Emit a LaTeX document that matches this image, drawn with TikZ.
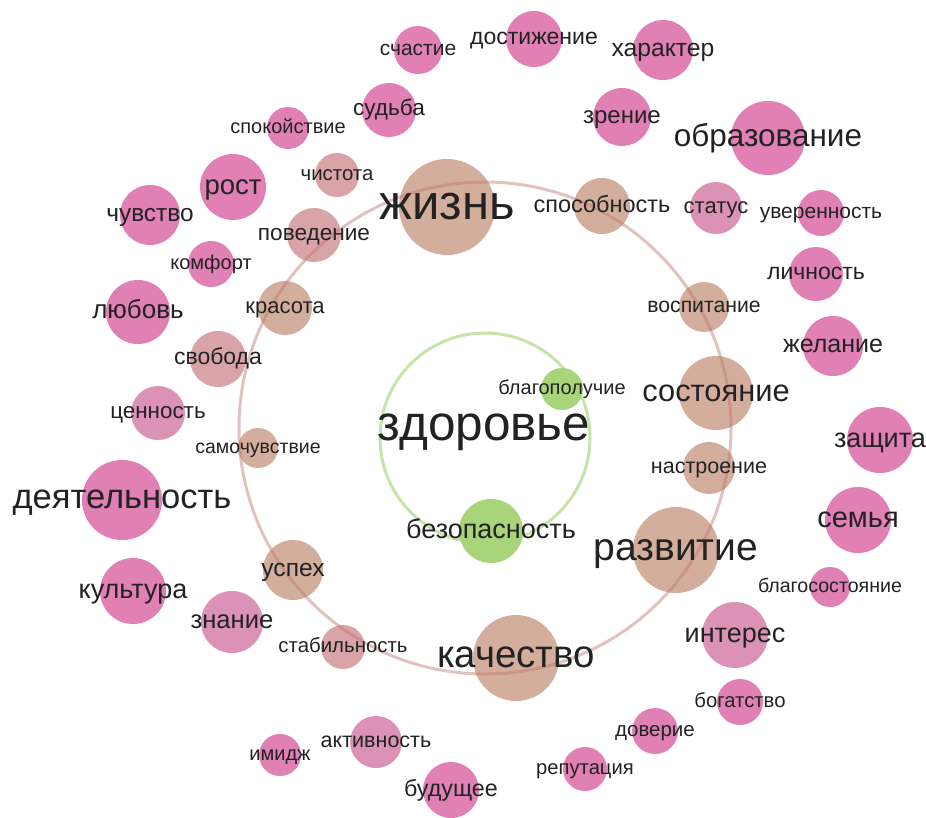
\documentclass[tikz,border=0pt]{standalone}
\usepackage{fontspec}
\setmainfont{Liberation Sans}
\usepackage{xcolor}
\usetikzlibrary{scopes}

\definecolor{pinkb}{RGB}{224,128,180}
\definecolor{pinkl}{RGB}{220,146,182}
\definecolor{mauveb}{RGB}{216,164,168}
\definecolor{brownb}{RGB}{212,174,156}
\definecolor{greenb}{RGB}{168,212,122}
\definecolor{ringc}{RGB}{190,120,115}
\definecolor{ringg}{RGB}{200,227,170}
\definecolor{txt}{RGB}{34,34,34}

\tikzset{
  lbl/.style={text=txt, inner sep=0pt, text height=0.52*#1pt, text depth=0pt,
    font=\fontsize{#1}{#1}\selectfont},
}

\begin{document}
\begin{tikzpicture}[x=1pt,y=-1pt]
	\useasboundingbox (0,0) rectangle (926,817);

	% inner ring
	\draw[ringg, line width=3pt] (485,438) circle [radius=105];

	% bubbles
	\fill[pinkb] (418,50) circle [radius=24];
	\fill[pinkb] (534,39) circle [radius=28];
	\fill[pinkb] (663,50) circle [radius=30];
	\fill[pinkb] (389,110) circle [radius=27];
	\fill[pinkb] (622,117) circle [radius=29];
	\fill[pinkb] (768,138) circle [radius=37];
	\fill[pinkb] (288,128) circle [radius=21];
	\fill[mauveb] (337,175) circle [radius=22];
	\fill[pinkb] (233,187) circle [radius=33];
	\fill[pinkb] (150,215) circle [radius=30];
	\fill[brownb] (447,207) circle [radius=48];
	\fill[mauveb] (314,235) circle [radius=27];
	\fill[brownb] (602,206) circle [radius=28];
	\fill[pinkl] (716,208) circle [radius=26];
	\fill[pinkb] (821,213) circle [radius=23];
	\fill[pinkb] (211,264) circle [radius=23];
	\fill[pinkb] (816,274) circle [radius=27];
	\fill[brownb] (704,307) circle [radius=25];
	\fill[pinkb] (138,312) circle [radius=32];
	\fill[brownb] (285,308) circle [radius=27];
	\fill[pinkb] (833,346) circle [radius=30];
	\fill[mauveb] (218,359) circle [radius=28];
	\fill[greenb] (562,389) circle [radius=21];
	\fill[brownb] (716,393) circle [radius=37];
	\fill[pinkl] (158,413) circle [radius=27];
	\fill[brownb] (258,448) circle [radius=20];
	\fill[pinkb] (880,440) circle [radius=33];
	\fill[brownb] (709,468) circle [radius=26];
	\fill[pinkb] (122,500) circle [radius=40];
	\fill[pinkb] (858,520) circle [radius=33];
	\fill[greenb] (491,531) circle [radius=32];
	\fill[brownb] (676,550) circle [radius=43];
	\fill[brownb] (293,570) circle [radius=30];
	\fill[pinkb] (133,591) circle [radius=33];
	\fill[pinkb] (830,587) circle [radius=20];
	\fill[pinkl] (232,622) circle [radius=31];
	\fill[pinkl] (735,635) circle [radius=33];
	\fill[mauveb] (343,647) circle [radius=22];
	\fill[brownb] (516,658) circle [radius=43];
	\fill[pinkb] (740,702) circle [radius=23];
	\fill[pinkb] (655,731) circle [radius=23];
	\fill[pinkl] (376,742) circle [radius=26];
	\fill[pinkb] (280,755) circle [radius=21];
	\fill[pinkb] (585,769) circle [radius=22];
	\fill[pinkb] (451,790) circle [radius=28];

	% outer ring
	\draw[ringc, opacity=0.45, line width=3pt] (485,428) circle [radius=246];

	% labels
	\node[lbl=21] (schastie) at (418,50) {счастие};
	\node[lbl=23] (dostizhenie) at (534,39) {достижение};
	\node[lbl=24.7] (harakter) at (663,50) {характер};
	\node[lbl=22.6] (sudba) at (389,110) {судьба};
	\node[lbl=24] (zrenie) at (622,117) {зрение};
	\node[lbl=31.5] (obrazovanie) at (768,138) {образование};
	\node[lbl=20] (spokoistvie) at (288,128) {спокойствие};
	\node[lbl=20.4] (chistota) at (337,175) {чистота};
	\node[lbl=27.5] (rost) at (233,187) {рост};
	\node[lbl=24.4] (chuvstvo) at (150,215) {чувство};
	\node[lbl=49] (zhizn) at (447,207) {жизнь};
	\node[lbl=22.6] (povedenie) at (314,235) {поведение};
	\node[lbl=23.5] (sposobnost) at (602,206) {способность};
	\node[lbl=22] (status) at (716,208) {статус};
	\node[lbl=21] (uverennost) at (821,213) {уверенность};
	\node[lbl=20] (komfort) at (211,264) {комфорт};
	\node[lbl=23] (lichnost) at (816,274) {личность};
	\node[lbl=21.2] (vospitanie) at (704,307) {воспитание};
	\node[lbl=26] (lyubov) at (138,312) {любовь};
	\node[lbl=22] (krasota) at (285,308) {красота};
	\node[lbl=25] (zhelanie) at (833,346) {желание};
	\node[lbl=23] (svoboda) at (218,359) {свобода};
	\node[lbl=20] (blagopoluchie) at (562,389) {благополучие};
	\node[lbl=30.8] (sostoyanie) at (716,393) {состояние};
	\node[lbl=22.4] (cennost) at (158,413) {ценность};
	\node[lbl=19.5] (samochuvstvie) at (258,448) {самочувствие};
	\node[lbl=27] (zashchita) at (880,440) {защита};
	\node[lbl=21.5] (nastroenie) at (709,468) {настроение};
	\node[lbl=34.5] (deyatelnost) at (122,500) {деятельность};
	\node[lbl=29] (semya) at (858,520) {семья};
	\node[lbl=27] (bezopasnost) at (491,531) {безопасность};
	\node[lbl=39] (razvitie) at (676,550) {развитие};
	\node[lbl=24.6] (uspeh) at (293,570) {успех};
	\node[lbl=27] (kultura) at (133,591) {культура};
	\node[lbl=19.6] (blagosostoyanie) at (830,587) {благосостояние};
	\node[lbl=25.6] (znanie) at (232,622) {знание};
	\node[lbl=27] (interes) at (735,635) {интерес};
	\node[lbl=20.4] (stabilnost) at (343,647) {стабильность};
	\node[lbl=38.4] (kachestvo) at (516,658) {качество};
	\node[lbl=20.3] (bogatstvo) at (740,702) {богатство};
	\node[lbl=20.5] (doverie) at (655,731) {доверие};
	\node[lbl=21.5] (aktivnost) at (376,742) {активность};
	\node[lbl=20] (imidzh) at (280,755) {имидж};
	\node[lbl=20.2] (reputaciya) at (585,769) {репутация};
	\node[lbl=23.3] (budushchee) at (451,790) {будущее};
	\node[lbl=49.5] (zdorove) at (484,428) {здоровье};
\end{tikzpicture}
\end{document}
